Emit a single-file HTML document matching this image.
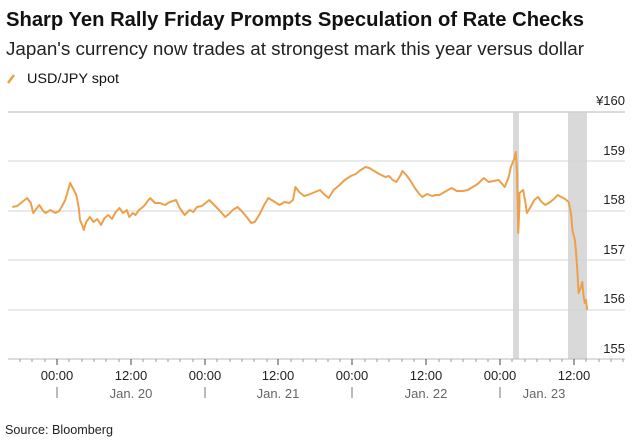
<!DOCTYPE html>
<html><head><meta charset="utf-8"><style>
html,body{margin:0;padding:0;background:#fff;width:643px;height:446px;overflow:hidden;font-family:"Liberation Sans",sans-serif}
</style></head><body>
<svg width="643" height="446" viewBox="0 0 643 446" xmlns="http://www.w3.org/2000/svg" font-family="Liberation Sans, sans-serif">
<text x="6" y="26" font-size="20" font-weight="bold" fill="#111" textLength="578" lengthAdjust="spacingAndGlyphs">Sharp Yen Rally Friday Prompts Speculation of Rate Checks</text>
<text x="6" y="55" font-size="18" fill="#222" textLength="578" lengthAdjust="spacingAndGlyphs">Japan's currency now trades at strongest mark this year versus dollar</text>
<line x1="8" y1="83" x2="14" y2="75" stroke="#e8a04a" stroke-width="2.5"/>
<text x="27" y="83" font-size="13.5" fill="#111" textLength="92" lengthAdjust="spacingAndGlyphs">USD/JPY spot</text>
<text x="625" y="105" font-size="13" fill="#222" text-anchor="end">¥160</text>
<rect x="513" y="112" width="6" height="247" fill="#d9d9d9"/>
<rect x="568" y="112" width="19" height="247" fill="#d9d9d9"/>
<line x1="8" y1="112" x2="625" y2="112" stroke="#cfcfcf" stroke-width="1.5"/>
<g stroke="#d4d4d4" stroke-width="1">
<line x1="8" y1="161" x2="625" y2="161"/><line x1="8" y1="211" x2="625" y2="211"/>
<line x1="8" y1="260" x2="625" y2="260"/><line x1="8" y1="310" x2="625" y2="310"/>
</g>
<line x1="8" y1="359" x2="625" y2="359" stroke="#bbb" stroke-width="1"/>
<g font-size="13" fill="#222" text-anchor="end">
<text x="625" y="155">159</text><text x="625" y="204">158</text><text x="625" y="254">157</text><text x="625" y="303">156</text><text x="625" y="353">155</text>
</g>
<g transform="scale(1.231,1)">
<polyline fill="none" stroke="#eda04a" stroke-width="2" vector-effect="non-scaling-stroke" stroke-linejoin="round" points="10,207 14,206 18,202 22,198 25,203 27,213 30,208 32,205 35,211 37,213 41,210 45,213 48,211 50,207 53,200 57,183 60,190 62,195 64,208 65,220 67,226 68,230 70,222 73,217 76,222 79,219 82,225 85,218 88,215 91,219 94,212 97,208 100,213 103,210 105,217 108,213 110,215 113,210 117,206 120,201 122,198 126,203 130,203 134,205 138,202 143,200 146,208 150,215 154,210 157,212 160,207 164,206 167,203 170,200 174,205 178,210 183,217 186,214 189,210 193,207 197,212 201,218 204,223 207,222 211,214 215,204 218,198 222,201 227,205 231,202 235,203 238,200 240,187 243,192 247,196 250,195 254,193 258,191 260,190 263,194 267,198 271,190 275,186 280,180 285,176 289,174 293,170 297,167 300,168 304,171 308,174 313,177 316,176 319,180 322,182 325,176 327,171 330,175 333,180 337,188 340,193 343,197 347,194 351,196 354,195 357,195 361,192 364,190 367,188 371,191 376,191 380,190 384,187 388,184 393,178 397,182 401,181 405,180 408,184 410,187 413,178 415,167 418,158 419,152 420,172 421,233 422,205 422,193 425,190 427,204 428,213 431,207 434,200 437,197 440,202 443,205 447,202 450,199 453,195 456,197 459,199 462,202 464,215 465,230 467,240 468,253 469,270 470,293 472,287 473,282 474,295 475,303 476,300 477,310"/>
</g>
<g stroke="#999" stroke-width="1">
<path d="M20 359v3M32 359v3M45 359v3M69 359v3M82 359v3M94 359v3M106 359v3M119 359v3M143 359v3M156 359v3M168 359v3M180 359v3M193 359v3M217 359v3M230 359v3M242 359v3M254 359v3M267 359v3M291 359v3M303 359v3M316 359v3M328 359v3M340 359v3M365 359v3M377 359v3M389 359v3M402 359v3M414 359v3M439 359v3M451 359v3M463 359v3M476 359v3M488 359v3M512 359v3M525 359v3M537 359v3M550 359v3M562 359v3M586 359v3M599 359v3M611 359v3M623 359v3"/>
</g>
<g stroke="#444" stroke-width="1">
<path d="M57 359v6M131 359v6M205 359v6M278 359v6M352 359v6M426 359v6M500 359v6M574 359v6"/>
</g>
<g stroke="#777" stroke-width="1"><path d="M57 387v11M205 387v11M352 387v11M500 387v11"/></g>
<g font-size="13" fill="#222" text-anchor="middle">
<text x="57" y="380">00:00</text><text x="131" y="380">12:00</text><text x="205" y="380">00:00</text><text x="278" y="380">12:00</text>
<text x="352" y="380">00:00</text><text x="426" y="380">12:00</text><text x="500" y="380">00:00</text><text x="574" y="380">12:00</text>
</g>
<g font-size="13" fill="#666" text-anchor="middle">
<text x="131" y="398">Jan. 20</text><text x="278" y="398">Jan. 21</text><text x="426" y="398">Jan. 22</text><text x="544" y="398">Jan. 23</text>
</g>
<text x="5" y="434" font-size="12.5" fill="#222" textLength="108" lengthAdjust="spacingAndGlyphs">Source: Bloomberg</text>
</svg>
</body></html>
